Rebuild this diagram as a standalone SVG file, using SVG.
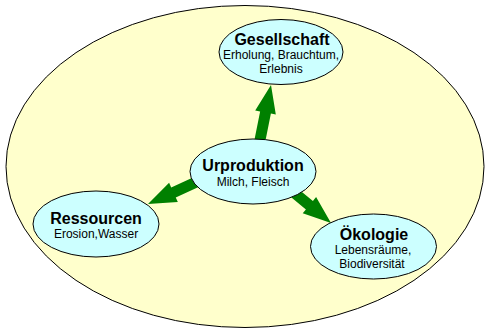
<svg xmlns="http://www.w3.org/2000/svg" width="485" height="329" viewBox="0 0 485 329">
<style>
.bg{fill:#FFFFCC;stroke:#000;stroke-width:1}
.node{fill:#CCFFFF;stroke:#000;stroke-width:1}
.arrow{fill:#008000;stroke:none}
.t{font-family:"Liberation Sans",Arial,sans-serif;font-weight:bold;font-size:16px;fill:#000;text-anchor:middle}
.s{font-family:"Liberation Sans",Arial,sans-serif;font-size:12px;fill:#000;text-anchor:middle}
</style>
<rect width="485" height="329" fill="#fff"/>
<ellipse class="bg" cx="245" cy="166.5" rx="239" ry="161"/>
<g id="connectors">
<polygon class="arrow" points="263.39,151.08 270.90,113.54 275.81,114.52 271,85 255.21,110.40 260.12,111.38 252.61,148.92"/>
<polygon class="arrow" points="207.28,183.00 175.75,197.38 177.83,201.93 148,204 169.11,182.83 171.19,187.38 202.72,173.00"/>
<polygon class="arrow" points="281.50,189.24 305.91,209.41 302.72,213.26 331,223 316.10,197.08 312.91,200.93 288.50,180.93"/>
</g>
<g id="gesellschaft">
<ellipse class="node" cx="281" cy="52" rx="62" ry="32.5"/>
<text class="t" x="282" y="45">Gesellschaft</text>
<text class="s" x="281" y="59">Erholung, Brauchtum,</text>
<text class="s" x="281" y="73">Erlebnis</text>
</g>
<g id="urproduktion">
<ellipse class="node" cx="253" cy="171.5" rx="63" ry="32.5"/>
<text class="t" x="253" y="171">Urproduktion</text>
<text class="s" x="253" y="186">Milch, Fleisch</text>
</g>
<g id="ressourcen">
<ellipse class="node" cx="96" cy="224" rx="63" ry="33"/>
<text class="t" x="96" y="224">Ressourcen</text>
<text class="s" x="96" y="238">Erosion,Wasser</text>
</g>
<g id="oekologie">
<ellipse class="node" cx="373.5" cy="246.5" rx="63" ry="32.5"/>
<text class="t" x="374" y="240">Ökologie</text>
<text class="s" x="373" y="254">Lebensräume,</text>
<text class="s" x="372" y="268">Biodiversität</text>
</g>
</svg>
